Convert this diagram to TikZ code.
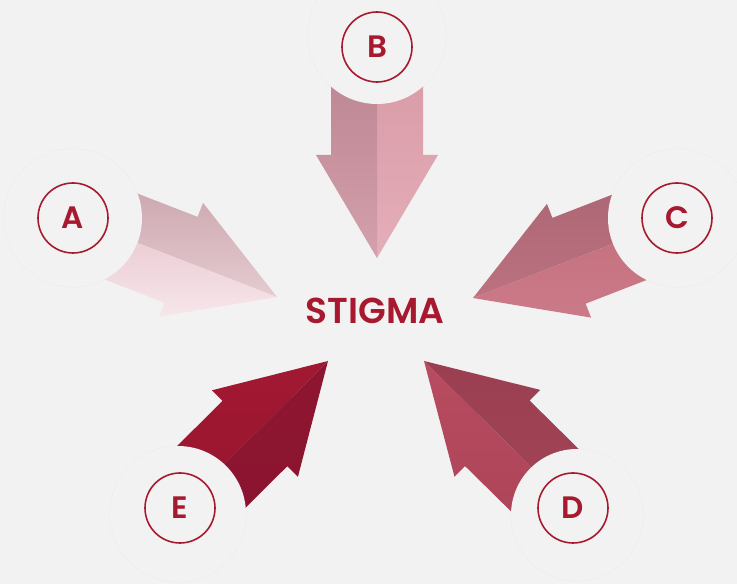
\documentclass[tikz,border=0pt]{standalone}
\usepackage{fontspec}
\setmainfont{Poppins}[BoldFont={* SemiBold}]

\definecolor{canvas}{HTML}{F2F2F2}
\definecolor{stigmared}{HTML}{A6192E}
\definecolor{discedge}{HTML}{EAEAEA}

\tikzset{
  discrim/.style={draw=discedge, line width=0.8pt},
  disc/.style={fill=canvas},
  badge/.style={circle, draw=stigmared, line width=1.6pt, fill=canvas,
    minimum size=70pt, inner sep=0pt, text=stigmared,
    font=\bfseries\fontsize{31}{31}\selectfont},
  title/.style={text=stigmared, font=\bfseries\fontsize{36}{36}\selectfont},
}

\begin{document}
\begin{tikzpicture}[x=1pt,y=1pt]
  \useasboundingbox (0,0) rectangle (737,584);
  \fill[canvas] (0,0) rectangle (737,584);%

  % Rims of the discs behind the badges
  \draw[discrim] (73,366) circle (69pt);%
  \draw[discrim] (377,549) circle (69pt);%
  \draw[discrim] (677,366) circle (69pt);%
  \draw[discrim] (577,69) circle (66pt);%
  \draw[discrim] (178,70) circle (68pt);%

  % Drawing arrow A
  \begin{scope}[shift={(277,287)}, rotate=-21.2]
    \shade[shading angle=-111.2,
      top color={rgb,255:red,200;green,160;blue,168}, bottom color={rgb,255:red,228;green,204;blue,209}]
      (0,0) -- (-103,61) -- (-103,46) -- (-240,46) -- (-240,0) -- cycle;%
    \shade[shading angle=-111.2,
      top color={rgb,255:red,232;green,196;blue,204}, bottom color={rgb,255:red,246;green,230;blue,234}]
      (0,0) -- (-103,-61) -- (-103,-46) -- (-240,-46) -- (-240,0) -- cycle;%
  \end{scope}

  % Drawing arrow B
  \begin{scope}[shift={(377,326)}, rotate=-90]
    \shade[shading angle=-180,
      top color={rgb,255:red,214;green,150;blue,162}, bottom color={rgb,255:red,228;green,174;blue,185}]
      (0,0) -- (-103,61) -- (-103,46) -- (-240,46) -- (-240,0) -- cycle;%
    \shade[shading angle=-180,
      top color={rgb,255:red,182;green,128;blue,140}, bottom color={rgb,255:red,212;green,160;blue,172}]
      (0,0) -- (-103,-61) -- (-103,-46) -- (-240,-46) -- (-240,0) -- cycle;%
  \end{scope}

  % Drawing arrow C
  \begin{scope}[shift={(473,286)}, rotate=201.2]
    \shade[shading angle=111.2,
      top color={rgb,255:red,196;green,110;blue,126}, bottom color={rgb,255:red,203;green,122;blue,136}]
      (0,0) -- (-103,61) -- (-103,46) -- (-240,46) -- (-240,0) -- cycle;%
    \shade[shading angle=111.2,
      top color={rgb,255:red,170;green,100;blue,115}, bottom color={rgb,255:red,188;green,114;blue,128}]
      (0,0) -- (-103,-61) -- (-103,-46) -- (-240,-46) -- (-240,0) -- cycle;%
  \end{scope}

  % Drawing arrow D
  \begin{scope}[shift={(424,223)}, rotate=135.4]
    \shade[shading angle=45.4,
      top color={rgb,255:red,184;green,76;blue,96}, bottom color={rgb,255:red,170;green,66;blue,86}]
      (0,0) -- (-103,61) -- (-103,46) -- (-240,46) -- (-240,0) -- cycle;%
    \shade[shading angle=45.4,
      top color={rgb,255:red,154;green,63;blue,81}, bottom color={rgb,255:red,162;green,68;blue,86}]
      (0,0) -- (-103,-61) -- (-103,-46) -- (-240,-46) -- (-240,0) -- cycle;%
  \end{scope}

  % Drawing arrow E
  \begin{scope}[shift={(328,223)}, rotate=44.8]
    \shade[shading angle=-45.2,
      top color={rgb,255:red,162;green,24;blue,50}, bottom color={rgb,255:red,150;green,21;blue,48}]
      (0,0) -- (-103,61) -- (-103,46) -- (-240,46) -- (-240,0) -- cycle;%
    \shade[shading angle=-45.2,
      top color={rgb,255:red,142;green,21;blue,48}, bottom color={rgb,255:red,138;green,20;blue,48}]
      (0,0) -- (-103,-61) -- (-103,-46) -- (-240,-46) -- (-240,0) -- cycle;%
  \end{scope}

  % Discs cover the arrow tails
  \fill[disc] (73,366) circle (69pt);%
  \fill[disc] (377,549) circle (69pt);%
  \fill[disc] (677,366) circle (69pt);%
  \fill[disc] (577,69) circle (66pt);%
  \fill[disc] (178,70) circle (68pt);%

  % Marking the badges
  \node[badge] (badgeA) at (73,366) {A};%
  \node[badge] (badgeB) at (377,537) {B};%
  \node[badge] (badgeC) at (677,366) {C};%
  \node[badge] (badgeD) at (573,76) {D};%
  \node[badge] (badgeE) at (180,76) {E};%

  \node[title] (stigma) at (375,273) {STIGMA};%
\end{tikzpicture}
\end{document}
